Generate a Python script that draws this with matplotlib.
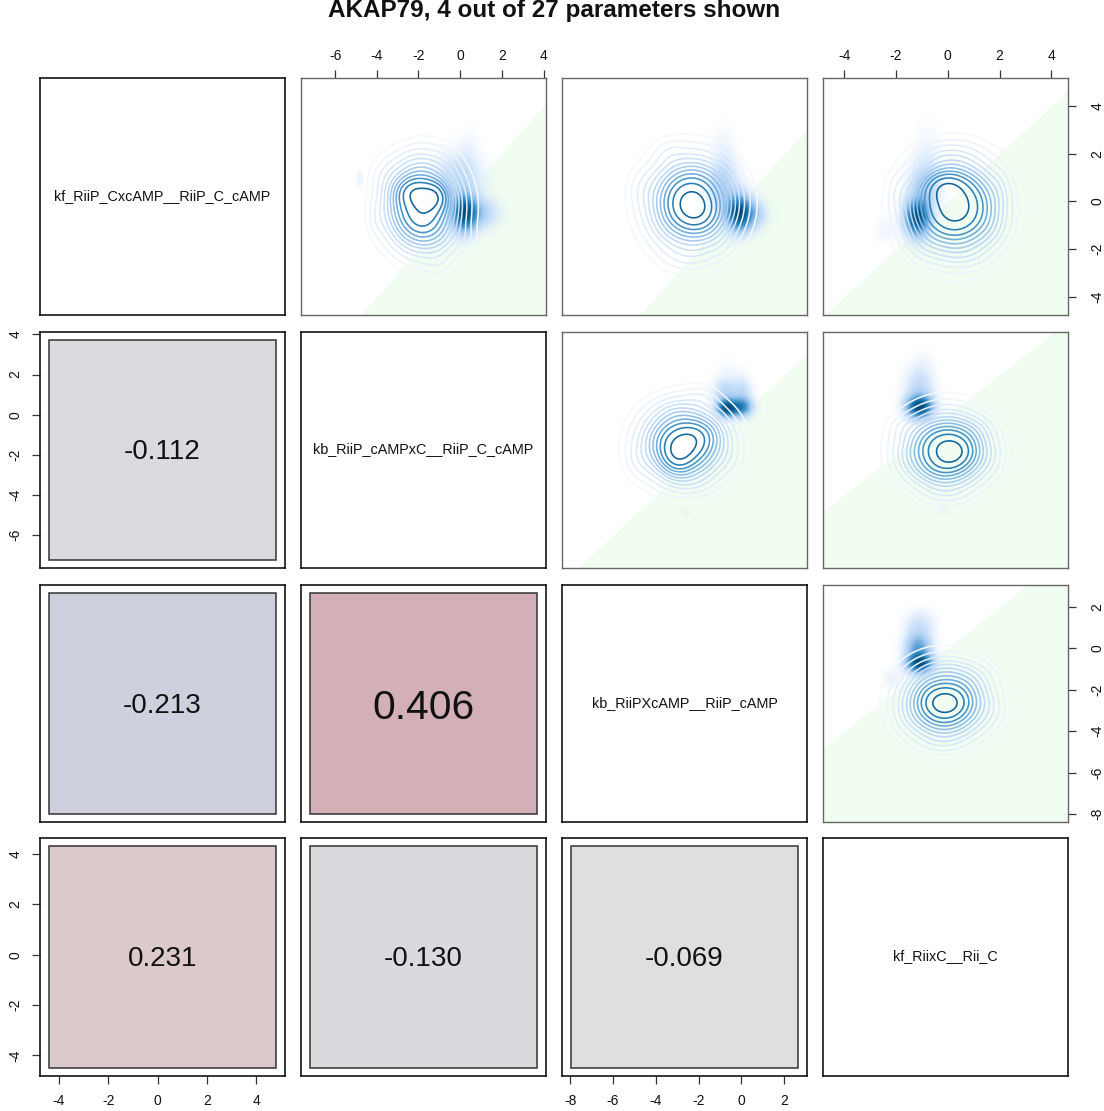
import matplotlib
matplotlib.use('Agg')
import matplotlib.pyplot as plt
from matplotlib.colors import LinearSegmentedColormap, to_rgba
import numpy as np

plt.rcParams['font.family'] = ['Liberation Sans', 'DejaVu Sans']
plt.rcParams['axes.unicode_minus'] = False

W, H = 1104, 1111
col_px = [(40, 285), (301, 546), (562, 807), (823, 1068)]
row_px = [(78, 315), (332, 568), (585, 822), (838, 1076)]

title = "AKAP79, 4 out of 27 parameters shown"
names = ["kf_RiiP_CxcAMP__RiiP_C_cAMP", "kb_RiiP_cAMPxC__RiiP_C_cAMP",
         "kb_RiiPXcAMP__RiiP_cAMP", "kf_RiixC__Rii_C"]
limits = [(-4.77, 5.17), (-7.64, 4.12), (-8.38, 3.06), (-4.82, 4.64)]

ticks_1 = [-4, -2, 0, 2, 4]
ticks_2 = [-6, -4, -2, 0, 2, 4]
ticks_3 = [-8, -6, -4, -2, 0, 2]
ticks_4 = [-4, -2, 0, 2, 4]

# correlations, lower triangle
corr_21 = "-0.112"
corr_31 = "-0.213"
corr_32 = "0.406"
corr_41 = "0.231"
corr_42 = "-0.130"
corr_43 = "-0.069"
corr_cells = {(1, 0): corr_21, (2, 0): corr_31, (2, 1): corr_32,
              (3, 0): corr_41, (3, 1): corr_42, (3, 2): corr_43}
corr_fill = {(1, 0): '#dadbdf', (2, 0): '#cfd0de', (2, 1): '#d3afb7',
             (3, 0): '#dccacb', (3, 1): '#d9dade', (3, 2): '#dedfe0'}
corr_size = {(1, 0): 20, (2, 0): 20, (2, 1): 29.3,
             (3, 0): 20, (3, 1): 20, (3, 2): 20}

# density blobs: x, y, sd x, sd y, weight
lines_12 = [(-1.8, -0.2, 1.05, 1.15, 1.0), (-2.3, 0.4, 0.55, 0.4, 0.3), (-1.2, 0.2, 0.45, 0.4, 0.36),
            (-1.9, -0.9, 0.7, 0.6, 0.12), (-3.0, -0.2, 0.6, 0.8, 0.06), (-0.9, -1.6, 0.6, 0.5, 0.05),
            (-2.1, 1.5, 0.8, 0.5, 0.05), (-3.6, 1.1, 0.5, 0.5, 0.05), (-1.0, -2.7, 0.5, 0.4, 0.05),
            (0.2, -1.6, 0.4, 0.4, 0.04), (-0.7, 1.8, 0.4, 0.5, 0.02), (-4.0, -0.8, 0.3, 0.5, 0.04)]
cloud_12 = [(0.2, -0.5, 0.42, 0.52, 1.0), (1.05, -0.5, 0.55, 0.42, 0.22), (0.0, 1.0, 0.7, 0.7, 0.2),
            (0.45, 2.4, 0.3, 0.5, 0.03), (-4.85, 0.96, 0.1, 0.25, 0.07)]

lines_13 = [(-2.3, -0.1, 1.2, 1.15, 1.0), (-2.2, -0.25, 0.6, 0.55, 0.3), (-3.0, 0.3, 0.65, 0.7, 0.12),
            (-2.0, 0.8, 0.7, 0.5, 0.08), (-1.6, -0.8, 0.6, 0.6, 0.1), (-3.2, -0.9, 0.7, 0.6, 0.05),
            (-4.6, 0.6, 0.5, 0.6, 0.05), (-2.5, -2.4, 0.9, 0.4, 0.05), (-0.6, 0.3, 0.5, 0.8, 0.04),
            (-3.4, 2.1, 0.5, 0.4, 0.05), (-0.9, -1.9, 0.4, 0.4, 0.03)]
cloud_13 = [(-0.1, -0.5, 0.4, 0.5, 1.0), (0.65, -0.55, 0.38, 0.4, 0.22), (-0.8, 0.7, 0.45, 0.7, 0.22),
            (-0.8, 2.1, 0.35, 0.7, 0.05)]

lines_14 = [(0.25, -0.25, 1.08, 1.2, 1.0), (-0.1, 0.6, 0.55, 0.45, 0.36), (0.9, 0.1, 0.55, 0.6, 0.1),
            (-0.7, -0.1, 0.5, 0.7, 0.08), (0.3, -0.7, 0.7, 0.6, 0.15), (1.7, -1.2, 0.5, 0.6, 0.05),
            (-1.0, -1.9, 0.5, 0.5, 0.05), (0.7, -2.3, 0.6, 0.4, 0.04), (0.0, 1.9, 0.8, 0.4, 0.06),
            (2.0, 0.6, 0.3, 0.6, 0.04), (-1.9, 0.4, 0.3, 0.6, 0.04)]
cloud_14 = [(-1.2, -0.7, 0.3, 0.5, 1.0), (-0.9, 0.6, 0.4, 0.7, 0.2), (-0.8, 2.0, 0.35, 0.9, 0.04),
            (-2.4, -1.2, 0.3, 0.4, 0.04)]

lines_23 = [(-2.65, -1.45, 1.2, 1.15, 1.0), (-3.0, -2.1, 0.5, 0.6, 0.32), (-2.4, -1.3, 0.6, 0.55, 0.18),
            (-1.7, -0.9, 0.55, 0.5, 0.1), (-3.6, -1.3, 0.55, 0.7, 0.05), (-3.1, 0.2, 0.6, 0.4, 0.05),
            (-1.9, 0.9, 0.5, 0.4, 0.05), (-2.3, -3.5, 0.8, 0.45, 0.05), (-0.4, -2.2, 0.5, 0.7, 0.03),
            (-4.8, -2.3, 0.45, 0.6, 0.05)]
cloud_23 = [(-0.65, 0.35, 0.32, 0.3, 1.0), (0.05, 0.4, 0.32, 0.32, 0.6), (-0.7, 1.2, 0.42, 0.42, 0.2),
            (0.1, 1.2, 0.3, 0.5, 0.13), (-0.55, 2.2, 0.4, 0.4, 0.03), (-2.6, -4.9, 0.15, 0.15, 0.04)]

lines_24 = [(-0.05, -1.8, 1.0, 1.15, 1.0), (0.3, -1.9, 0.5, 0.5, 0.3), (-0.5, -1.5, 0.55, 0.6, 0.1),
            (0.5, -1.1, 0.6, 0.5, 0.08), (-0.3, -2.6, 0.6, 0.5, 0.1), (1.6, -2.2, 0.4, 0.6, 0.04),
            (-1.6, -2.2, 0.4, 0.6, 0.04), (-1.7, -0.6, 0.4, 0.4, 0.05), (1.3, -0.6, 0.4, 0.4, 0.03),
            (-0.1, -4.0, 0.6, 0.4, 0.05)]
cloud_24 = [(-1.1, 0.4, 0.33, 0.38, 1.0), (-1.1, 1.5, 0.38, 0.6, 0.16), (-1.0, 2.7, 0.3, 0.4, 0.03),
            (-0.2, -4.8, 0.12, 0.15, 0.05)]

lines_34 = [(-0.1, -2.6, 1.0, 1.1, 1.0), (-0.1, -2.65, 0.55, 0.45, 0.36), (0.5, -2.0, 0.5, 0.6, 0.06),
            (-0.7, -2.2, 0.5, 0.6, 0.06), (-0.3, -3.4, 0.7, 0.5, 0.08), (1.6, -3.0, 0.4, 0.6, 0.05),
            (-1.6, -3.3, 0.4, 0.6, 0.03), (1.2, -1.3, 0.5, 0.5, 0.05), (0.0, -0.9, 0.6, 0.3, 0.03),
            (-0.3, -4.6, 0.7, 0.4, 0.05)]
cloud_34 = [(-1.1, -0.7, 0.33, 0.32, 1.0), (-1.15, 0.1, 0.33, 0.42, 0.45), (-1.1, 1.1, 0.38, 0.5, 0.14),
            (-2.15, -1.45, 0.25, 0.3, 0.06)]

upper_panels = {(0, 1): (lines_12, cloud_12), (0, 2): (lines_13, cloud_13), (0, 3): (lines_14, cloud_14),
                (1, 2): (lines_23, cloud_23), (1, 3): (lines_24, cloud_24), (2, 3): (lines_34, cloud_34)}

levels = [0.03, 0.06, 0.10, 0.15, 0.20, 0.26, 0.32, 0.39, 0.47, 0.56, 0.68, 0.85]
level_colors = ['#f6f8fb', '#eef4fc', '#e3eefc', '#d8e8fb', '#cbe0f9', '#bcd8f6', '#a8ccf1',
                '#8fbdea', '#6dacdd', '#4694cb', '#2680b8', '#11659c']
cloud_cmap = LinearSegmentedColormap.from_list(
    'cloud', [(0.0, to_rgba('#cfe3fb', 0.0)), (0.12, to_rgba('#cfe3fb', 1.0)), (0.3, '#9cc7ee'),
              (0.5, '#4a97cf'), (0.75, '#0f6ba5'), (1.0, '#03456f')],
)


def pixel_axes(fig, col, row):
    x0, x1 = col_px[col]
    y0, y1 = row_px[row]
    return fig.add_axes([x0 / W, 1 - y1 / H, (x1 - x0) / W, (y1 - y0) / H])


def blob_field(blobs, xx, yy):
    z = np.zeros_like(xx)
    for cx, cy, sx, sy, weight in blobs:
        z += weight * np.exp(-0.5 * (((xx - cx) / sx) ** 2 + ((yy - cy) / sy) ** 2))
    return z / z.max()


fig = plt.figure(figsize=(W / 100, H / 100), dpi=100)
fig.text(554 / W, 1 - 11 / H, title, ha='center', va='center', fontsize=17.5, fontweight='bold', color='#111111')

all_ticks = [ticks_1, ticks_2, ticks_3, ticks_4]

for row in range(4):
    for col in range(4):
        ax = pixel_axes(fig, col, row)
        ax.set_xlim(limits[col])
        ax.set_ylim(limits[row])
        ax.set_xticks([])
        ax.set_yticks([])
        edge = 'black'
        if row == col:
            ax.text(0.5, 0.503, names[row], transform=ax.transAxes, ha='center', va='center',
                    fontsize=10.35, color='#111111')
        elif row > col:
            ax.add_patch(plt.Rectangle((0.035, 0.034), 0.93, 0.932, transform=ax.transAxes,
                                       facecolor=corr_fill[(row, col)], edgecolor='#333333', lw=1.1))
            drop = 0.017 if row == 2 and col == 1 else 0.009
            ax.text(0.5, 0.5 - drop, corr_cells[(row, col)], transform=ax.transAxes, ha='center', va='center',
                    fontsize=corr_size[(row, col)], color='#111111')
        else:
            edge = '#666666'
            xlim, ylim = limits[col], limits[row]
            ax.fill_between(xlim, xlim, ylim[0], color='#f1fdf0', lw=0, zorder=1)
            xs = np.linspace(xlim[0], xlim[1], 110)
            ys = np.linspace(ylim[0], ylim[1], 110)
            xx, yy = np.meshgrid(xs, ys)
            line_blobs, cloud_blobs = upper_panels[(row, col)]
            ax.imshow(blob_field(cloud_blobs, xx, yy), extent=[*xlim, *ylim], origin='lower', aspect='auto',
                      cmap=cloud_cmap, vmin=0, vmax=1, interpolation='bilinear', zorder=2)
            ax.contour(xx, yy, blob_field(line_blobs, xx, yy), levels=levels, colors=level_colors,
                       linewidths=1.15, zorder=3)
            ax.set_xlim(xlim)
            ax.set_ylim(ylim)
        for spine in ax.spines.values():
            spine.set_color(edge)
            spine.set_linewidth(1.1 if edge == 'black' else 1.0)

        tick_style = dict(length=5.8, width=0.9, color='#333333', labelsize=10, labelcolor='#111111')
        if row == 0 and col in (1, 3):
            ax.set_xticks(all_ticks[col])
            ax.tick_params(axis='x', top=True, bottom=False, labeltop=True, labelbottom=False, pad=5, **tick_style)
        if row == 3 and col in (0, 2):
            ax.set_xticks(all_ticks[col])
            ax.tick_params(axis='x', pad=7.5, **tick_style)
        if col == 0 and row in (1, 3):
            ax.set_yticks(all_ticks[row])
            ax.tick_params(axis='y', labelrotation=90, pad=7, **tick_style)
            for lab in ax.get_yticklabels():
                lab.set_va('center')
        if col == 3 and row in (0, 2):
            ax.set_yticks(all_ticks[row])
            ax.tick_params(axis='y', right=True, left=False, labelright=True, labelleft=False,
                           labelrotation=90, pad=10.5, **tick_style)
            for lab in ax.get_yticklabels():
                lab.set_va('center')

fig.savefig('out.png', dpi=100)
